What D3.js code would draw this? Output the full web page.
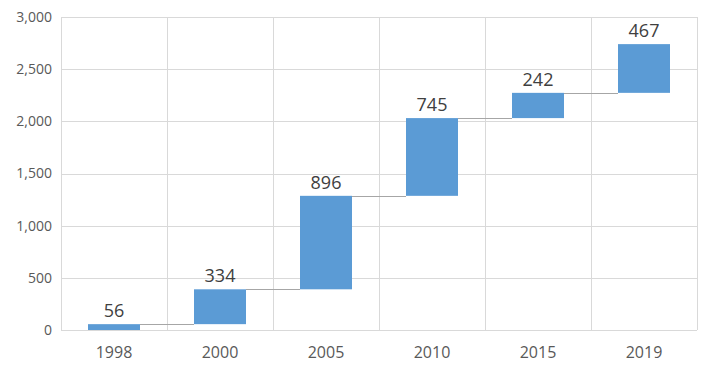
<!DOCTYPE html>
<html><head><meta charset="utf-8">
<script src="https://cdn.jsdelivr.net/npm/d3@7"></script>
<style>body{margin:0;background:#fff}svg{display:block}</style>
</head><body>
<script>
const categories = ["1998","2000","2005","2010","2015","2019"];
const increments = [56, 334, 896, 745, 242, 467];
const yTicks = [0, 500, 1000, 1500, 2000, 2500, 3000];

const W = 707, H = 379;
const m = {left: 61, right: 10, top: 17, bottom: 49};
const svg = d3.select("body").append("svg").attr("width", W).attr("height", H);
const font = "'Open Sans', 'Noto Sans', sans-serif";

const x = d3.scaleBand().domain(categories).range([m.left, W - m.right]).paddingInner(0).paddingOuter(0);
const y = d3.scaleLinear().domain([0, 3000]).range([H - m.bottom, m.top]);

let cum = 0;
const data = categories.map((c, i) => { const start = cum; cum += increments[i]; return {c, v: increments[i], start, end: cum}; });

const g = svg.append("g");
// horizontal grid
g.selectAll(".hg").data(yTicks).join("line")
  .attr("x1", m.left).attr("x2", W - m.right)
  .attr("y1", d => Math.round(y(d)) + 0.5).attr("y2", d => Math.round(y(d)) + 0.5)
  .attr("stroke", "#d9d9d9").attr("stroke-width", 1);
// vertical grid at category boundaries
const bounds = categories.map(c => x(c)).concat([W - m.right]);
g.selectAll(".vg").data(bounds).join("line")
  .attr("x1", d => Math.round(d) + 0.5).attr("x2", d => Math.round(d) + 0.5)
  .attr("y1", m.top).attr("y2", H - m.bottom)
  .attr("stroke", "#d9d9d9").attr("stroke-width", 1);

// y tick labels
g.selectAll(".yt").data(yTicks).join("text")
  .attr("x", 52).attr("y", d => y(d)).attr("dy", "0.35em")
  .attr("text-anchor", "end").attr("font-family", font).attr("font-size", 14)
  .attr("fill", "#595959").text(d3.format(","));

// x labels
g.selectAll(".xt").data(categories).join("text")
  .attr("x", d => x(d) + x.bandwidth() / 2).attr("y", 358)
  .attr("text-anchor", "middle").attr("font-family", font).attr("font-size", 16)
  .attr("fill", "#595959").text(d => d);

const bw = x.bandwidth() * 52 / 106;
const off = (x.bandwidth() - bw) / 2;

// connectors
g.selectAll(".con").data(data.slice(0, -1)).join("line")
  .attr("x1", d => x(d.c) + off + bw)
  .attr("x2", (d, i) => x(categories[i + 1]) + off)
  .attr("y1", d => Math.round(y(d.end)) + 0.5).attr("y2", d => Math.round(y(d.end)) + 0.5)
  .attr("stroke", "#a6a6a6").attr("stroke-width", 1);

// bars
g.selectAll(".bar").data(data).join("rect")
  .attr("x", d => x(d.c) + off).attr("width", bw)
  .attr("y", d => y(d.end)).attr("height", d => y(d.start) - y(d.end))
  .attr("fill", "#5b9bd5");

// data labels
g.selectAll(".lbl").data(data).join("text")
  .attr("x", d => x(d.c) + x.bandwidth() / 2).attr("y", d => y(d.end) - 7)
  .attr("text-anchor", "middle").attr("font-family", font).attr("font-size", 18)
  .attr("fill", "#404040").text(d => d.v);
</script>
</body></html>
